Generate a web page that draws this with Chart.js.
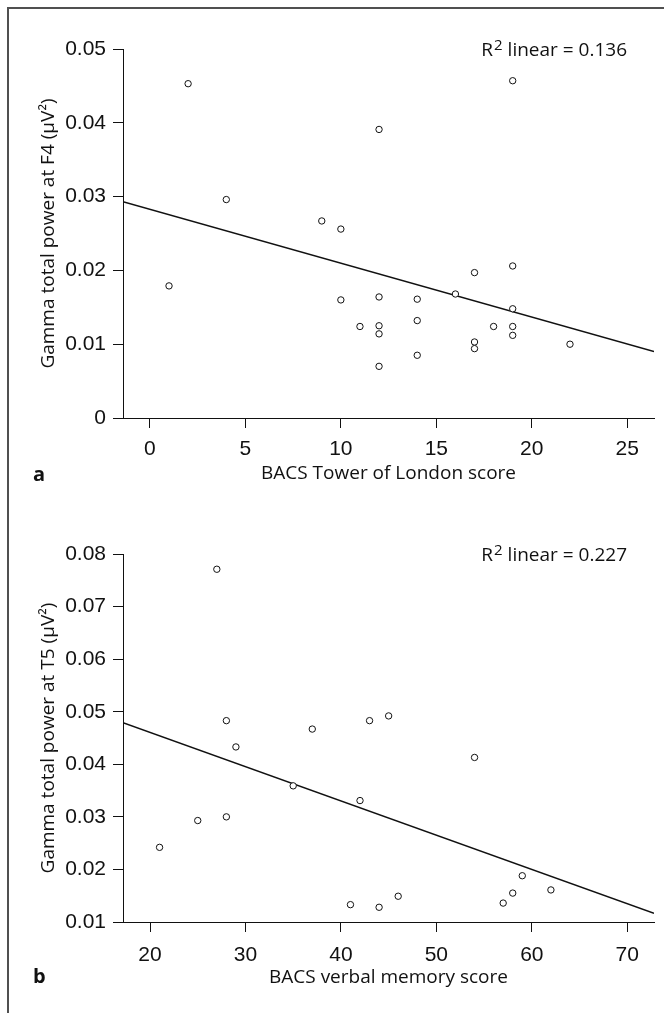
<!DOCTYPE html>
<html>
<head>
<meta charset="utf-8">
<script src="https://cdn.jsdelivr.net/npm/chart.js@4/dist/chart.umd.min.js"></script>
<style>
  html, body { margin: 0; padding: 0; background: #fff; }
  #page { position: relative; width: 664px; height: 1013px; overflow: hidden; }
  #frame {
    position: absolute; left: 7px; top: 7px; right: -4px; bottom: -4px;
    border-top: 2px solid #505050; border-left: 2px solid #505050;
  }
  canvas { position: absolute; left: 0; }
  #chartA { top: 0; }
  #chartB { top: 500px; }
</style>
</head>
<body>
<div id="page">
  <div id="frame"></div>
  <canvas id="chartA" width="664" height="500"></canvas>
  <canvas id="chartB" width="664" height="513"></canvas>
</div>
<script>
/*
====================================
DATA  (panel a: Tower of London)
====================================
*/
const towerScore = [2, 19, 12, 4, 9, 10, 1, 10, 12, 14, 14, 11, 12, 12, 12, 14, 17, 19, 16, 19, 18, 19, 19, 17, 17, 22];
const gammaF4 = [0.0453, 0.0457, 0.0391, 0.0296, 0.0267, 0.0256, 0.0179, 0.0160, 0.0164, 0.0161, 0.0132, 0.0124, 0.0125, 0.0114, 0.0070, 0.0085, 0.0197, 0.0206, 0.0168, 0.0148, 0.0124, 0.0124, 0.0112, 0.0103, 0.0094, 0.0100];
const fitTowerX = [-1.41, 26.4];
const fitTowerY = [0.0293, 0.0090];
const towerXRange = [-1.41, 26.4];
const towerYRange = [0, 0.05];
const towerXTicks = [0, 5, 10, 15, 20, 25];
const towerYTicks = [0, 0.01, 0.02, 0.03, 0.04, 0.05];
const towerYLabels = ["0", "0.01", "0.02", "0.03", "0.04", "0.05"];
const towerR2 = "0.136";

/*
====================================
DATA  (panel b: verbal memory)
====================================
*/
const memoryScore = [27, 28, 29, 37, 43, 45, 54, 35, 42, 21, 25, 28, 41, 44, 46, 57, 58, 59, 62];
const gammaT5 = [0.0771, 0.0483, 0.0433, 0.0467, 0.0483, 0.0492, 0.0413, 0.0359, 0.0331, 0.0242, 0.0293, 0.0300, 0.0133, 0.0128, 0.0149, 0.0136, 0.0155, 0.0188, 0.0161];
const fitMemoryX = [17.17, 72.8];
const fitMemoryY = [0.0479, 0.01165];
const memoryXRange = [17.17, 72.8];
const memoryYRange = [0.01, 0.08];
const memoryXTicks = [20, 30, 40, 50, 60, 70];
const memoryYTicks = [0.01, 0.02, 0.03, 0.04, 0.05, 0.06, 0.07, 0.08];
const memoryYLabels = ["0.01", "0.02", "0.03", "0.04", "0.05", "0.06", "0.07", "0.08"];
const memoryR2 = "0.227";

const INK = "#111";
const TITLE_FONT = "'Open Sans', 'Noto Sans', sans-serif";
const TICK_FONT = "'Liberation Sans Narrow', 'Liberation Sans', sans-serif";

/*
====================================
PLUGIN: R2 text + panel letter
====================================
*/
const annotate = {
  id: "annotate",
  afterDraw(chart, args, opts) {
    const { ctx, chartArea } = chart;
    ctx.save();
    ctx.fillStyle = INK;
    ctx.textBaseline = "alphabetic";
    ctx.textAlign = "left";

    // R2 linear = ...
    const base = chartArea.top + 7;
    const rest = " linear = " + opts.r2;
    ctx.font = "19px " + TITLE_FONT;
    const wR = ctx.measureText("R").width;
    const wRest = ctx.measureText(rest).width;
    ctx.font = "15px " + TITLE_FONT;
    const w2 = ctx.measureText("2").width;
    let x = chartArea.right - 27 - wRest - w2 - wR - 1;
    ctx.font = "19px " + TITLE_FONT;
    ctx.fillText("R", x, base);
    x += wR + 1;
    ctx.font = "15px " + TITLE_FONT;
    ctx.fillText("2", x, base - 6);
    x += w2;
    ctx.font = "19px " + TITLE_FONT;
    ctx.fillText(rest, x, base);

    // panel letter
    ctx.font = "bold 20px " + TITLE_FONT;
    ctx.fillText(opts.letter, 33, opts.letterY);
    ctx.restore();
  }
};

function points(xs, ys) {
  return xs.map((v, i) => ({ x: v, y: ys[i] }));
}

function makeScatter(canvasId, cfg) {
  return new Chart(document.getElementById(canvasId), {
    type: "scatter",
    data: {
      datasets: [
        {
          label: "fit",
          type: "line",
          data: points(cfg.fitX, cfg.fitY),
          borderColor: INK,
          borderWidth: 1.5,
          pointRadius: 0,
          fill: false,
          order: 2
        },
        {
          label: "subjects",
          data: points(cfg.xs, cfg.ys),
          pointStyle: "circle",
          pointRadius: 3.2,
          borderWidth: 1,
          borderColor: INK,
          backgroundColor: "#fff",
          order: 1
        }
      ]
    },
    options: {
      responsive: false,
      animation: false,
      devicePixelRatio: 1,
      layout: { padding: { left: 0, right: 10, top: cfg.top, bottom: 0 } },
      plugins: {
        legend: { display: false },
        tooltip: { enabled: false },
        annotate: { r2: cfg.r2, letter: cfg.letter, letterY: cfg.letterY }
      },
      scales: {
        x: {
          type: "linear",
          min: cfg.xRange[0],
          max: cfg.xRange[1],
          afterBuildTicks: (s) => { s.ticks = cfg.xTicks.map(v => ({ value: v })); },
          afterFit: (s) => { s.height = cfg.xHeight; },
          border: { display: true, color: INK, width: 1 },
          grid: { drawOnChartArea: false, drawTicks: true, tickLength: 10, color: INK },
          ticks: {
            color: INK,
            padding: cfg.xTickPad,
            maxRotation: 0,
            font: { family: TICK_FONT, size: 21 }
          },
          title: {
            display: true,
            text: cfg.xTitle,
            color: INK,
            font: { family: TITLE_FONT, size: 19 },
            padding: { top: 0, bottom: cfg.xTitlePad }
          }
        },
        y: {
          type: "linear",
          min: cfg.yRange[0],
          max: cfg.yRange[1],
          afterBuildTicks: (s) => { s.ticks = cfg.yTicks.map(v => ({ value: v })); },
          afterFit: (s) => { s.width = 123; },
          border: { display: true, color: INK, width: 1 },
          grid: { drawOnChartArea: false, drawTicks: true, tickLength: 10, color: INK },
          ticks: {
            color: INK,
            padding: 7,
            font: { family: TICK_FONT, size: 21 },
            callback: (v, i) => cfg.yLabels[i]
          },
          title: {
            display: true,
            text: cfg.yTitle,
            color: INK,
            font: { family: TITLE_FONT, size: 19 },
            padding: { top: 37, bottom: 0 }
          }
        }
      }
    },
    plugins: [annotate]
  });
}

/*
====================================
PANEL a
====================================
*/
makeScatter("chartA", {
  xs: towerScore, ys: gammaF4,
  fitX: fitTowerX, fitY: fitTowerY,
  xRange: towerXRange, yRange: towerYRange,
  xTicks: towerXTicks, yTicks: towerYTicks, yLabels: towerYLabels,
  xTitle: "BACS Tower of London score",
  yTitle: "Gamma total power at F4 (\u00b5V\u00b2)",
  r2: towerR2, letter: "a", letterY: 481,
  top: 49, xHeight: 82, xTitlePad: 15, xTickPad: 9
});

/*
====================================
PANEL b
====================================
*/
makeScatter("chartB", {
  xs: memoryScore, ys: gammaT5,
  fitX: fitMemoryX, fitY: fitMemoryY,
  xRange: memoryXRange, yRange: memoryYRange,
  xTicks: memoryXTicks, yTicks: memoryYTicks, yLabels: memoryYLabels,
  xTitle: "BACS verbal memory score",
  yTitle: "Gamma total power at T5 (\u00b5V\u00b2)",
  r2: memoryR2, letter: "b", letterY: 483,
  top: 54, xHeight: 91, xTitlePad: 24, xTickPad: 11
});
</script>
</body>
</html>
